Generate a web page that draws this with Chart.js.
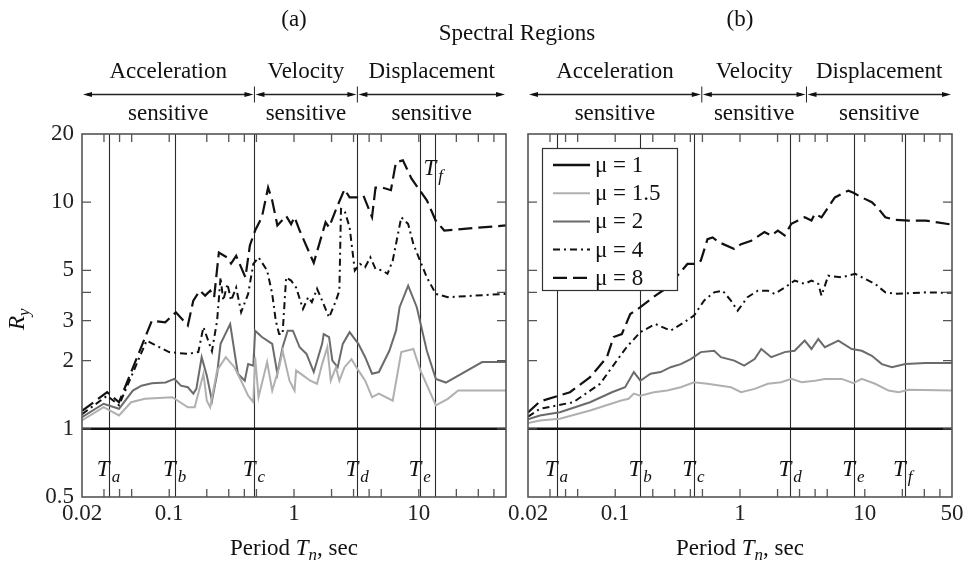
<!DOCTYPE html>
<html>
<head>
<meta charset="utf-8">
<script src="https://cdn.jsdelivr.net/npm/chart.js@4.4.1/dist/chart.umd.min.js"></script>
<style>
  body { margin: 0; background: #fff; }
  #wrap { position: relative; width: 972px; height: 563px; }
  canvas { position: absolute; left: 0; top: 0; }
</style>
</head>
<body>
<div id="wrap">
  <canvas id="chartA" width="972" height="563"></canvas>
  <canvas id="chartB" width="972" height="563"></canvas>
</div>
<script>
// ---- data: [period Tn (sec), Ry] ----
const leftMu1 = [[0.02, 1], [50, 1]];
const leftMu15 = [[0.02,1.09],[0.0298,1.245],[0.0396,1.145],[0.0495,1.31],[0.0639,1.356],[0.106,1.378],[0.141,1.245],[0.160,1.245],[0.188,1.75],[0.2,1.33],[0.213,1.245],[0.242,1.81],[0.284,2.07],[0.333,1.87],[0.377,1.63],[0.429,1.40],[0.472,1.31],[0.488,2.07],[0.52,1.38],[0.609,1.97],[0.669,1.475],[0.76,1.87],[0.81,2.21],[0.92,1.63],[1.01,1.475],[1.04,1.81],[1.18,1.72],[1.35,1.63],[1.53,1.58],[1.68,1.93],[1.85,2.29],[1.97,1.63],[2.17,1.87],[2.31,1.63],[2.54,1.87],[2.89,2.03],[3.28,1.81],[3.72,1.63],[4.22,1.38],[4.79,1.43],[6.18,1.33],[7.24,2.18],[9.05,2.25],[10.3,1.81],[13.7,1.27],[17.1,1.356],[20.7,1.475],[50,1.475]];
const leftMu2 = [[0.02,1.125],[0.0298,1.29],[0.0396,1.225],[0.0511,1.475],[0.0599,1.55],[0.0726,1.59],[0.0934,1.6],[0.110,1.66],[0.124,1.55],[0.141,1.525],[0.156,1.43],[0.165,1.50],[0.182,2.07],[0.2,1.72],[0.22,1.33],[0.242,1.75],[0.258,2.37],[0.308,2.9],[0.355,1.75],[0.403,1.63],[0.429,1.93],[0.472,1.90],[0.488,2.71],[0.553,2.54],[0.669,2.37],[0.736,1.75],[0.81,2.29],[0.89,2.71],[0.98,2.71],[1.11,2.29],[1.26,2.14],[1.44,1.78],[1.68,2.37],[1.73,2.62],[1.91,2.54],[2.03,2.0],[2.24,1.87],[2.46,2.37],[2.79,2.67],[3.28,2.37],[3.72,2.07],[4.22,1.75],[4.79,1.78],[5.81,2.21],[6.57,2.71],[7.02,3.44],[8.22,4.28],[9.64,3.44],[11.6,2.21],[13.7,1.66],[16.5,1.6],[32.2,1.97],[50,1.97]];
const leftMu4 = [[0.02,1.16],[0.0318,1.40],[0.0396,1.27],[0.0659,2.45],[0.0997,2.18],[0.141,2.14],[0.171,2.18],[0.188,2.81],[0.22,2.2],[0.242,3.0],[0.258,4.66],[0.271,3.68],[0.293,4.36],[0.313,3.68],[0.344,4.2],[0.377,3.27],[0.429,3.94],[0.472,5.34],[0.52,5.71],[0.609,5.0],[0.669,3.94],[0.714,3.0],[0.76,2.62],[0.81,2.62],[0.865,4.66],[0.948,4.51],[1.04,4.2],[1.18,3.38],[1.30,3.81],[1.39,3.62],[1.53,4.15],[1.68,3.68],[1.91,3.1],[2.17,3.68],[2.31,4.07],[2.38,9.34],[2.54,9.2],[2.79,7.75],[3.07,5.0],[3.38,5.34],[3.71,5.16],[4.09,5.71],[4.5,5.08],[5.11,5.0],[5.61,4.83],[6.18,5.52],[7.24,8.58],[8.22,8.02],[9.05,6.53],[11.6,4.66],[13.7,3.94],[17.1,3.81],[50,3.94]];
const leftMu8 = [[0.02,1.20],[0.0318,1.45],[0.0396,1.31],[0.0726,3.0],[0.0929,2.95],[0.113,3.27],[0.141,2.86],[0.156,3.68],[0.176,4.07],[0.194,3.87],[0.213,4.07],[0.229,3.81],[0.25,6.0],[0.291,5.7],[0.313,5.36],[0.344,5.8],[0.377,5.16],[0.408,4.66],[0.443,6.44],[0.488,7.5],[0.553,8.6],[0.62,11.6],[0.668,10.2],[0.736,7.9],[0.865,8.7],[0.948,8.0],[1.01,8.6],[1.11,7.5],[1.44,5.4],[1.79,8.15],[1.91,7.75],[2.17,9.3],[2.54,11.4],[2.79,10.5],[3.28,10.5],[3.6,10.7],[4.22,8.6],[4.5,11.6],[5.11,11.6],[5.98,11.3],[6.56,15.0],[7.46,15.3],[8.75,12.7],[11.6,10.2],[13.65,8.3],[16,7.5],[50,7.9]];

const rightMu1 = [[0.02, 1], [50, 1]];
const rightMu15 = [[0.02,1.06],[0.0249,1.088],[0.036,1.107],[0.0629,1.204],[0.110,1.33],[0.128,1.356],[0.141,1.43],[0.159,1.40],[0.204,1.45],[0.261,1.475],[0.335,1.525],[0.428,1.605],[0.549,1.58],[0.703,1.55],[0.846,1.525],[1.02,1.45],[1.31,1.50],[1.67,1.58],[2.14,1.605],[2.58,1.66],[3.11,1.605],[3.98,1.63],[4.79,1.66],[6.53,1.66],[8.11,1.59],[9.46,1.66],[12.1,1.58],[15.5,1.475],[18.7,1.45],[22.5,1.486],[50,1.475]];
const rightMu2 = [[0.02,1.1],[0.0249,1.145],[0.036,1.184],[0.0629,1.31],[0.0941,1.45],[0.120,1.525],[0.141,1.78],[0.159,1.63],[0.192,1.75],[0.231,1.78],[0.278,1.87],[0.335,1.93],[0.403,2.03],[0.485,2.18],[0.621,2.21],[0.703,2.07],[0.90,2.0],[1.08,1.90],[1.31,2.03],[1.48,2.25],[1.78,2.07],[2.28,2.18],[2.74,2.21],[3.30,2.45],[3.74,2.25],[4.24,2.49],[4.79,2.29],[6.14,2.45],[7.86,2.25],[9.46,2.21],[11.4,2.1],[13.7,1.93],[16.5,1.87],[21.1,1.93],[30.7,1.95],[50,1.95]];
const rightMu4 = [[0.02,1.13],[0.0249,1.225],[0.0461,1.31],[0.0757,1.58],[0.103,2.0],[0.124,2.3],[0.159,2.67],[0.21,2.9],[0.278,2.71],[0.356,2.95],[0.428,3.16],[0.515,3.68],[0.621,4.0],[0.726,4.07],[0.846,3.68],[0.958,3.32],[1.15,3.81],[1.39,4.07],[1.67,4.07],[1.89,3.94],[2.28,4.2],[2.74,4.51],[3.30,4.36],[3.74,4.51],[4.24,4.36],[4.5,3.87],[5.1,4.74],[6.53,4.66],[8.36,4.83],[10.1,4.58],[12.1,4.36],[14.6,4.0],[17.6,3.94],[30.7,4.0],[50,3.98]];
const rightMu8 = [[0.02,1.18],[0.0249,1.32],[0.0434,1.45],[0.0629,1.69],[0.0858,2.07],[0.097,2.54],[0.113,2.62],[0.132,3.21],[0.159,3.44],[0.21,3.87],[0.261,4.2],[0.379,5.34],[0.428,5.34],[0.485,5.52],[0.549,6.87],[0.603,6.99],[0.681,6.65],[0.90,6.22],[1.02,6.53],[1.23,6.76],[1.57,7.38],[1.78,7.13],[2.01,7.49],[2.28,7.13],[2.58,8.03],[2.92,8.3],[3.30,8.58],[3.74,8.3],[3.98,8.88],[4.5,8.58],[5.1,9.5],[5.76,10.5],[7.39,11.25],[8.11,11.0],[9.46,10.5],[11.4,10.0],[12.9,9.34],[14.6,8.58],[17.6,8.36],[22.5,8.3],[30.7,8.3],[50,7.96]];

// period markers Ta..Tf and spectral-region boundaries
const tLetters = ['a', 'b', 'c', 'd', 'e', 'f'];
const leftTPeriods = [0.0327, 0.111, 0.482, 3.22, 10.28, 13.55];
const rightTPeriods = [0.0339, 0.159, 0.428, 2.53, 8.20, 20.9];
const leftRegionBounds = [0.482, 3.22];
const rightRegionBounds = [0.494, 3.41];
const regionNames = ['Acceleration', 'Velocity', 'Displacement'];

// axis ticks
const xTickValues = [0.02, 0.03, 0.04, 0.05, 0.1, 0.2, 0.3, 0.4, 0.5, 1, 2, 3, 4, 5, 10, 20, 30, 40, 50];
const xLabelsLeft = { '0.02': '0.02', '0.1': '0.1', '1': '1', '10': '10' };
const xLabelsRight = { '0.02': '0.02', '0.1': '0.1', '1': '1', '10': '10', '50': '50' };
const yTickValues = [0.5, 1, 2, 3, 4, 5, 10, 20];
const yLabels = { '0.5': '0.5', '1': '1', '2': '2', '3': '3', '5': '5', '10': '10', '20': '20' };
const muNames = ['1', '1.5', '2', '4', '8'];

const SERIF = '"Liberation Serif", "Times New Roman", serif';
const FS = 23;
const SUB = 17;

function makeSets(series) {
  const styles = [
    { borderColor: '#111', borderWidth: 2.6, borderDash: [] },
    { borderColor: '#b0b0b0', borderWidth: 2, borderDash: [] },
    { borderColor: '#6b6b6b', borderWidth: 2, borderDash: [] },
    { borderColor: '#111', borderWidth: 2, borderDash: [7, 4, 2, 4] },
    { borderColor: '#111', borderWidth: 2.2, borderDash: [14, 6] }
  ];
  return series.map((s, i) => Object.assign({
    label: muNames[i],
    data: s.map(([x, y]) => ({ x: x, y: y })),
    pointRadius: 0,
    tension: 0,
    fill: false
  }, styles[i]));
}

// italic T with subscript letter, the T ending on the marker line
function tLabel(ctx, x, y, main, sub) {
  ctx.textBaseline = 'alphabetic';
  ctx.font = 'italic ' + FS + 'px ' + SERIF;
  ctx.textAlign = 'right';
  ctx.fillText(main, x + 1, y);
  ctx.font = 'italic ' + SUB + 'px ' + SERIF;
  ctx.textAlign = 'left';
  ctx.fillText(sub, x + 3, y + 6);
}

function periodTitle(ctx, cx, y) {
  const parts = [
    ['Period ', FS + 'px ' + SERIF, 0],
    ['T', 'italic ' + FS + 'px ' + SERIF, 0],
    ['n', 'italic ' + SUB + 'px ' + SERIF, 5],
    [', sec', FS + 'px ' + SERIF, 0]
  ];
  let w = 0;
  parts.forEach(p => { ctx.font = p[1]; w += ctx.measureText(p[0]).width; });
  let x = cx - w / 2;
  ctx.textAlign = 'left';
  ctx.textBaseline = 'alphabetic';
  parts.forEach(p => { ctx.font = p[1]; ctx.fillText(p[0], x, y + p[2]); x += ctx.measureText(p[0]).width; });
}

function arrowHead(ctx, x, y, dir) {
  ctx.beginPath();
  ctx.moveTo(x, y);
  ctx.lineTo(x - dir * 9, y - 2.6);
  ctx.lineTo(x - dir * 9, y + 2.6);
  ctx.closePath();
  ctx.fill();
}

function panelPlugin(cfg) {
  return {
    id: 'panel' + cfg.tag,
    beforeDatasetsDraw(chart) {
      const { ctx, chartArea: a, scales } = chart;
      ctx.save();
      ctx.strokeStyle = '#2a2a2a';
      ctx.lineWidth = 1.1;
      cfg.tPeriods.forEach(t => {
        const px = Math.round(scales.x.getPixelForValue(t)) + 0.5;
        ctx.beginPath(); ctx.moveTo(px, a.top); ctx.lineTo(px, a.bottom); ctx.stroke();
      });
      ctx.restore();
    },
    afterDatasetsDraw(chart) {
      const { ctx, chartArea: a, scales } = chart;
      const xs = scales.x, ys = scales.y;
      ctx.save();
      ctx.fillStyle = '#222';
      ctx.strokeStyle = '#555';
      // frame
      ctx.lineWidth = 1.6;
      ctx.strokeRect(a.left, a.top, a.right - a.left, a.bottom - a.top);
      // inward ticks
      ctx.lineWidth = 1.3;
      xTickValues.forEach(v => {
        if (v <= 0.02 || v >= 50) return;
        const px = xs.getPixelForValue(v);
        ctx.beginPath();
        ctx.moveTo(px, a.bottom); ctx.lineTo(px, a.bottom - 8);
        ctx.moveTo(px, a.top); ctx.lineTo(px, a.top + 8);
        ctx.stroke();
      });
      yTickValues.forEach(v => {
        if (v <= 0.5 || v >= 20) return;
        const py = ys.getPixelForValue(v);
        ctx.beginPath();
        ctx.moveTo(a.left, py); ctx.lineTo(a.left + 9, py);
        ctx.moveTo(a.right, py); ctx.lineTo(a.right - 9, py);
        ctx.stroke();
      });
      // T labels
      ctx.fillStyle = '#111';
      cfg.tPeriods.forEach((t, i) => {
        const px = xs.getPixelForValue(t);
        const top = cfg.topLabel === i;
        tLabel(ctx, px, top ? a.top + 41 : a.bottom - 21, 'T', tLetters[i]);
      });
      // header
      const cx = (a.left + a.right) / 2;
      ctx.textAlign = 'center';
      ctx.textBaseline = 'middle';
      ctx.font = FS + 'px ' + SERIF;
      ctx.fillText(cfg.tag, cx, 20);
      if (cfg.spectral) ctx.fillText('Spectral Regions', 517, 34);
      const bounds = [a.left, xs.getPixelForValue(cfg.regions[0]), xs.getPixelForValue(cfg.regions[1]), a.right];
      const ay = 94.5;
      ctx.strokeStyle = '#222';
      ctx.lineWidth = 1.4;
      for (let i = 0; i < 3; i++) {
        const l = bounds[i] + 1, r = bounds[i + 1] - 1;
        ctx.beginPath(); ctx.moveTo(l + 4, ay); ctx.lineTo(r - 4, ay); ctx.stroke();
        arrowHead(ctx, l, ay, -1);
        arrowHead(ctx, r, ay, 1);
        const mx = (bounds[i] + bounds[i + 1]) / 2;
        ctx.textAlign = 'center';
        ctx.textBaseline = 'middle';
        ctx.font = FS + 'px ' + SERIF;
        ctx.fillText(regionNames[i], mx, 72);
        ctx.fillText('sensitive', mx, 114);
      }
      ctx.lineWidth = 1;
      [bounds[1], bounds[2]].forEach(b => {
        ctx.beginPath(); ctx.moveTo(b, ay - 8); ctx.lineTo(b, ay + 8); ctx.stroke();
      });
      // axis titles
      periodTitle(ctx, cx, 555);
      if (cfg.yTitle) {
        ctx.save();
        ctx.translate(24, 318);
        ctx.rotate(-Math.PI / 2);
        ctx.textAlign = 'right';
        ctx.textBaseline = 'alphabetic';
        ctx.font = 'italic ' + FS + 'px ' + SERIF;
        ctx.fillText('R', 2, 0);
        ctx.font = 'italic ' + SUB + 'px ' + SERIF;
        ctx.textAlign = 'left';
        ctx.fillText('y', 2, 5);
        ctx.restore();
      }
      // legend
      if (cfg.legend) {
        const lx = 542, ly = 148, lw = 135, lh = 142;
        ctx.fillStyle = '#fff';
        ctx.fillRect(lx, ly, lw, lh);
        ctx.strokeStyle = '#333';
        ctx.lineWidth = 1.2;
        ctx.strokeRect(lx + 0.5, ly + 0.5, lw, lh);
        chart.data.datasets.forEach((d, i) => {
          const ry = 165 + i * 28.2;
          ctx.strokeStyle = d.borderColor;
          ctx.lineWidth = d.borderWidth;
          ctx.setLineDash(d.borderDash);
          ctx.beginPath(); ctx.moveTo(553, ry); ctx.lineTo(590, ry); ctx.stroke();
          ctx.setLineDash([]);
          ctx.fillStyle = '#111';
          ctx.font = FS + 'px ' + SERIF;
          ctx.textAlign = 'left';
          ctx.textBaseline = 'middle';
          ctx.fillText('\u03bc = ' + d.label, 595, ry + 1);
        });
      }
      ctx.restore();
    }
  };
}

function makeChart(id, series, opts) {
  return new Chart(document.getElementById(id), {
    type: 'line',
    data: { datasets: makeSets(series) },
    options: {
      responsive: false,
      animation: false,
      devicePixelRatio: 1,
      layout: { padding: opts.padding },
      plugins: { legend: { display: false }, tooltip: { enabled: false } },
      scales: {
        x: {
          type: 'logarithmic', min: 0.02, max: 50,
          grid: { display: false, drawTicks: false },
          border: { display: false },
          afterBuildTicks: s => { s.ticks = xTickValues.map(v => ({ value: v })); },
          afterFit: s => { s.height = 66; },
          ticks: {
            autoSkip: false, maxRotation: 0, padding: 3, color: '#222',
            font: { family: SERIF, size: FS },
            callback: v => opts.xLabels[String(v)] || ''
          }
        },
        y: {
          type: 'logarithmic', min: 0.5, max: 20,
          grid: { display: false, drawTicks: false },
          border: { display: false },
          afterBuildTicks: s => { s.ticks = yTickValues.map(v => ({ value: v })); },
          afterFit: s => { s.width = opts.yWidth; },
          ticks: {
            display: opts.yTicks, autoSkip: false, padding: 8, color: '#222',
            font: { family: SERIF, size: FS },
            callback: v => yLabels[String(v)] || ''
          }
        }
      }
    },
    plugins: [panelPlugin(opts.panel)]
  });
}

makeChart('chartA', [leftMu1, leftMu15, leftMu2, leftMu4, leftMu8], {
  padding: { top: 134, left: 0, right: 466, bottom: 0 },
  yWidth: 82, yTicks: true, xLabels: xLabelsLeft,
  panel: { tag: '(a)', tPeriods: leftTPeriods, regions: leftRegionBounds, topLabel: 5, spectral: true, yTitle: true }
});
makeChart('chartB', [rightMu1, rightMu15, rightMu2, rightMu4, rightMu8], {
  padding: { top: 134, left: 518, right: 20, bottom: 0 },
  yWidth: 10, yTicks: false, xLabels: xLabelsRight,
  panel: { tag: '(b)', tPeriods: rightTPeriods, regions: rightRegionBounds, topLabel: -1, legend: true }
});
</script>
</body>
</html>
